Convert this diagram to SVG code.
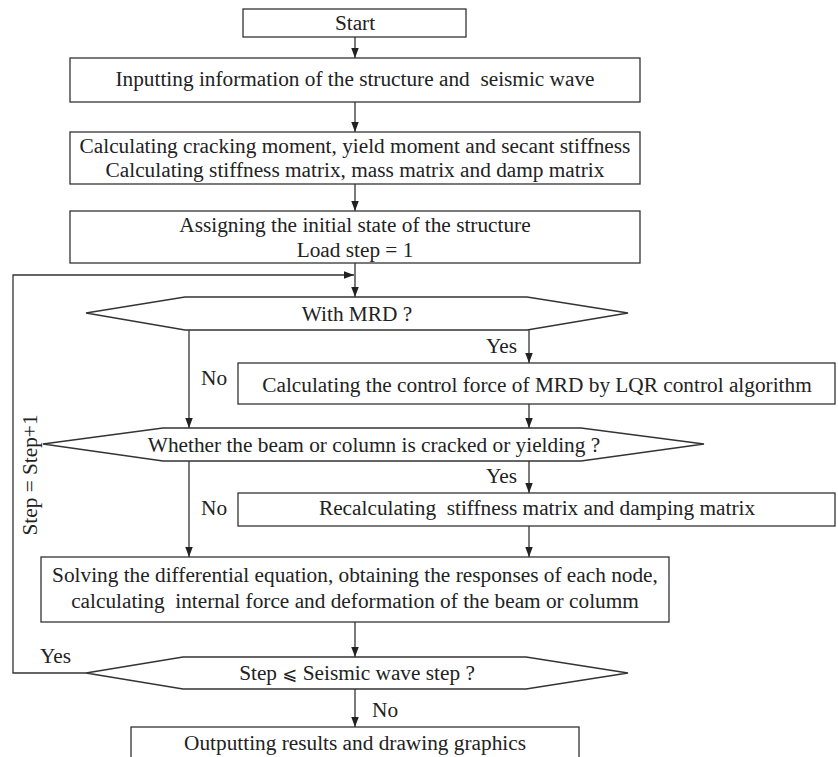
<svg xmlns="http://www.w3.org/2000/svg" width="838" height="757" viewBox="0 0 838 757" font-family="'Liberation Serif', 'Times New Roman', serif">
<defs>
<style>
.b{fill:#fff;stroke:#333;stroke-width:1.3}
.c{fill:none;stroke:#333;stroke-width:1.3}
text{font-family:'Liberation Serif', 'Times New Roman', serif;font-size:21.3px;fill:#222}
.m{text-anchor:middle}
</style>
<marker id="ah" markerWidth="10" markerHeight="12" refX="12" refY="4.5" viewBox="0 0 12 9" orient="auto" markerUnits="userSpaceOnUse">
<path d="M0,0 L12,4.5 L0,9 Z" fill="#222"/>
</marker>
</defs>
<rect width="838" height="757" fill="#fff"/>
<g id="connectors">
<line class="c" x1="355" y1="37" x2="355" y2="58" marker-end="url(#ah)"/>
<line class="c" x1="355" y1="102" x2="355" y2="132" marker-end="url(#ah)"/>
<line class="c" x1="355" y1="184" x2="355" y2="211" marker-end="url(#ah)"/>
<line class="c" x1="355" y1="263" x2="355" y2="297" marker-end="url(#ah)"/>
<line class="c" x1="529" y1="330" x2="529" y2="363" marker-end="url(#ah)"/>
<line class="c" x1="189" y1="330" x2="189" y2="428" marker-end="url(#ah)"/>
<line class="c" x1="529" y1="404" x2="529" y2="428" marker-end="url(#ah)"/>
<line class="c" x1="529" y1="461" x2="529" y2="493" marker-end="url(#ah)"/>
<line class="c" x1="189" y1="461" x2="189" y2="557" marker-end="url(#ah)"/>
<line class="c" x1="529" y1="526" x2="529" y2="557" marker-end="url(#ah)"/>
<line class="c" x1="355" y1="622" x2="355" y2="657" marker-end="url(#ah)"/>
<line class="c" x1="355" y1="689" x2="355" y2="727" marker-end="url(#ah)"/>
<polyline class="c" points="86,673 13,673 13,275 354,275" marker-end="url(#ah)"/>
<text x="486" y="353">Yes</text>
<text x="201" y="385">No</text>
<text x="486" y="483">Yes</text>
<text x="201" y="515">No</text>
<text x="40" y="663">Yes</text>
<text x="372" y="717">No</text>
<text class="m" transform="translate(37,475) rotate(-90)">Step = Step+1</text>
</g>
<g id="start">
<rect class="b" x="243" y="9" width="223" height="28"/>
<text class="m" x="355" y="30">Start</text>
</g>
<g id="input">
<rect class="b" x="70" y="58" width="570" height="44"/>
<text class="m" x="355" y="86" xml:space="preserve">Inputting information of the structure and  seismic wave</text>
</g>
<g id="calc">
<rect class="b" x="70" y="132" width="570" height="52"/>
<text class="m" x="355" y="153">Calculating cracking moment, yield moment and secant stiffness</text>
<text class="m" x="355" y="177">Calculating stiffness matrix, mass matrix and damp matrix</text>
</g>
<g id="assign">
<rect class="b" x="70" y="211" width="570" height="52"/>
<text class="m" x="355" y="232">Assigning the initial state of the structure</text>
<text class="m" x="355" y="257">Load step = 1</text>
</g>
<g id="mrd">
<polygon class="b" points="86,313 185,297 527,297 628,313 527,330 185,330"/>
<text class="m" x="357" y="321">With MRD ?</text>
</g>
<g id="control">
<rect class="b" x="238" y="363" width="597" height="41"/>
<text class="m" x="537" y="392">Calculating the control force of MRD by LQR control algorithm</text>
</g>
<g id="cracked">
<polygon class="b" points="43,444 163,428 581,428 704,444 581,461 163,461"/>
<text class="m" x="374" y="452">Whether the beam or column is cracked or yielding ?</text>
</g>
<g id="recalc">
<rect class="b" x="238" y="493" width="597" height="33"/>
<text class="m" x="537" y="515" xml:space="preserve">Recalculating  stiffness matrix and damping matrix</text>
</g>
<g id="solve">
<rect class="b" x="41" y="557" width="628" height="65"/>
<text class="m" x="355" y="582">Solving the differential equation, obtaining the responses of each node,</text>
<text class="m" x="355" y="608" xml:space="preserve">calculating  internal force and deformation of the beam or columm</text>
</g>
<g id="stepcheck">
<polygon class="b" points="86,673 183,657 526,657 628,673 526,689 183,689"/>
<text class="m" x="357" y="680">Step <tspan font-family="'DejaVu Serif', 'DejaVu Sans', serif" font-size="18">⩽</tspan> Seismic wave step ?</text>
</g>
<g id="output">
<rect class="b" x="131" y="727" width="448" height="40"/>
<text class="m" x="355" y="750">Outputting results and drawing graphics</text>
</g>
</svg>
